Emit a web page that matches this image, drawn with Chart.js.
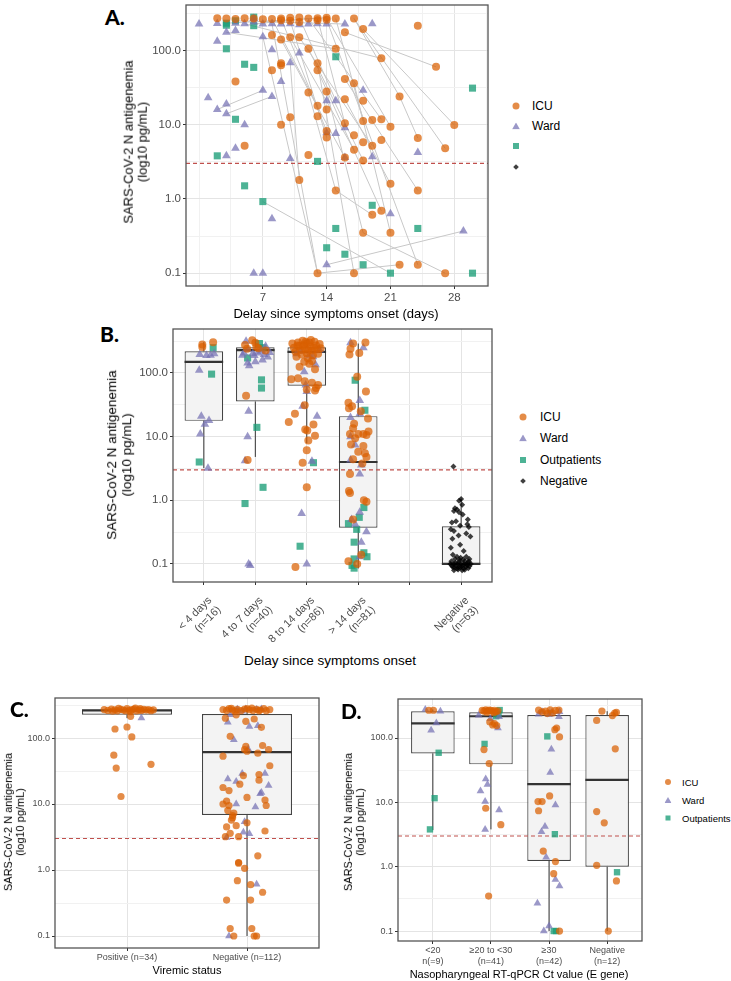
<!DOCTYPE html>
<html><head><meta charset="utf-8"><title>SARS-CoV-2 N antigenemia</title>
<script src="https://cdn.jsdelivr.net/npm/chart.js"></script>
<style>
html,body{margin:0;padding:0;background:#fff}
body{position:relative;width:731px;height:981px;overflow:hidden;font-family:"Liberation Sans",Arial,sans-serif;color:#000}
canvas{position:absolute}
.pl{position:absolute;font-family:Lato,"Liberation Sans",sans-serif;font-weight:900;font-size:21px;line-height:1;transform:translateY(-50%)}
.yt{position:absolute;transform:translate(-50%,-50%) rotate(-90deg);text-align:center;white-space:nowrap;line-height:1.1}
.xt{position:absolute;transform:translate(-50%,-50%);white-space:nowrap}
.lg{position:absolute;white-space:nowrap;transform:translateY(-50%)}
.mk{position:absolute}
</style></head><body>
<canvas id="cA" width="350" height="310" style="left:150px;top:0px"></canvas>
<canvas id="cB" width="372" height="330" style="left:130px;top:320px"></canvas>
<canvas id="cC" width="314" height="275" style="left:15px;top:690px"></canvas>
<canvas id="cD" width="287" height="282" style="left:365px;top:690px"></canvas>

<div class="pl" style="left:105px;top:16px">A.</div>
<div class="pl" style="left:100px;top:333px">B.</div>
<div class="pl" style="left:10px;top:708px">C.</div>
<div class="pl" style="left:341px;top:710px">D.</div>

<div class="yt" style="left:136px;top:142px;font-size:13px">SARS-CoV-2 N antigenemia<br>(log10 pg/mL)</div>
<div class="xt" style="left:336px;top:313px;font-size:13px">Delay since symptoms onset (days)</div>
<div class="yt" style="left:120px;top:455px;font-size:13.5px">SARS-CoV-2 N antigenemia<br>(log10 pg/mL)</div>
<div class="xt" style="left:330px;top:660px;font-size:13.5px">Delay since symptoms onset</div>
<div class="yt" style="left:14px;top:822px;font-size:11px">SARS-CoV-2 N antigenemia<br>(log10 pg/mL)</div>
<div class="xt" style="left:187px;top:970px;font-size:11px">Viremic status</div>
<div class="yt" style="left:354px;top:822px;font-size:11px">SARS-CoV-2 N antigenemia<br>(log10 pg/mL)</div>
<div class="xt" style="left:519px;top:974px;font-size:11px">Nasopharyngeal RT-qPCR Ct value (E gene)</div>
<div id="legends"></div>

<script>
// ---------------- DATA ----------------
const cutoff = 3;                       // positivity threshold (pg/mL)
const yMajor = [0.1, 1, 10, 100];       // y tick labels
const yMinor = [0.316, 3.16, 31.6, 316];

// Panel A: delay since symptoms onset (days) vs antigenemia
const aXLabels = [7, 14, 21, 28];
const aXGrid = [0, 3.5, 7, 10.5, 14, 17.5, 21, 24.5, 28, 31.5];
const aIcuDay = [2,3,4,5,6,7,8,9,10,11,12,13,14,15,17,11,13,14,9,10,18,24,16,8,10,11,9,12,15,20,13,9,9,26,8,13,4,16,17,12,14,22,16,18,13,14,13,10,9,16,18,19,20,21,28,14,14,17,18,20,24,19,17,16,27,5,12,18,11,21,15,24,20,19,18,21,22,24,13,17,27];
const aIcuVal = [270,268,265,270,268,262,265,268,275,278,268,270,275,268,268,240,255,258,255,250,194,215,175,161,150,150,140,105,105,78,67,67,63,60,54,54,38,41,36,27,28,24,22,21,18,16,13,12.6,10,10.4,11.2,11.5,11.8,9.4,9.9,8.2,6.7,7.2,5.8,6.2,6.6,5.2,4.6,3.6,4.8,5.2,3.9,3.3,1.8,1.6,1.3,1.3,0.69,0.61,0.35,0.35,0.13,0.13,0.1,0.1,0.1];
const aWardDay = [0,2,4,5,6,7,8,9,10,11,12,13,14,16,19,6,2,3,4,7,8,11,10,9,1,2,3,3,7,8,5,4,3,10,15,18,16,15,16,19,24,8,21,14,29,6,7,14,14];
const aWardVal = [226,230,232,228,240,226,228,226,228,222,226,228,226,226,228,268,133,175,185,153,102,92,68,38,23,16,19,14,29,24,10,4.8,3.8,3.5,21,29,9.1,7.6,3.6,3.7,4.2,0.54,0.63,0.13,0.37,0.1,0.1,21,7.8];
const aOutDay = [3,3,4,6,6,3,5,6,4,2,13,5,7,15,30,19,15,24,14,16,18,21,30];
const aOutVal = [232,218,250,280,215,105,65,59,11.8,3.8,3.2,1.5,0.92,82,31,0.82,0.4,0.4,0.22,0.18,0.13,0.1,0.1];
// paired samples of the same patient: [day1, value1, day2, value2]
const aLinks = [[2,16,7,29],[3,14,8,24],[7,0.92,21,0.1],[14,0.13,29,0.37],[13,0.1,22,0.13],[3,175,15,105],[5,228,20,78],[16,175,26,60],[22,24,24,6.6],[18,194,28,9.9],[17,268,27,4.8],[15,1.3,19,0.61],[8,228,13,0.1],[10,68,11,1.8],[7,153,13,0.1],[16,41,24,1.3],[17,36,21,0.35],[16,22,21,1.6],[12,105,18,3.3],[13,67,17,0.1],[14,28,18,0.35],[11,150,19,5.2],[9,140,16,3.6],[10,150,17,4.6],[13,54,20,0.69],[14,275,21,9.4],[12,268,20,11.8],[15,268,18,11.2],[13,270,16,10.4],[17,268,22,24],[9,268,14,8.2],[11,278,15,21],[8,265,13,18],[18,0.35,27,0.1],[3,232,14,275],[4,250,16,226],[6,226,12,268],[14,258,24,0.13],[12,27,15,1.3],[10,250,14,6.7]];

// Panel B: delay categories (x = category index + jitter, y = value)
const bCategories = [['< 4 days','(n=16)'],['4 to 7 days','(n=40)'],['8 to 14 days','(n=86)'],['> 14 days','(n=81)'],'',['Negative','(n=63)']];
const bBoxAt = [0,1,2,3,5];
const bQ1  = [17.7, 35.7, 63, 0.37, 0.098];
const bMed = [149, 228, 214, 4.0, 0.1];
const bQ3  = [220, 254, 254, 21, 0.39];
const bLo  = [3.2, 4.8, 7.9, 0.085, 0.08];
const bHi  = [305, 328, 330, 290, 1.06];
const bIcu = [[-0.03,280],[-0.03,257],[0.18,305],
 [0.94,328],[1.0,298],[0.84,240],[0.82,44],[0.85,4.3],[1.02,255],[0.8,275],[1.2,225],[1.06,245],
 [1.72,290],[1.75,250],[1.78,215],[1.8,180],[1.83,300],[1.85,265],[1.88,230],[1.9,195],[1.92,320],[1.95,280],[1.97,240],[2.0,205],[2.02,170],[2.05,300],[2.07,260],[2.1,225],[2.12,190],[2.15,310],[2.18,270],[2.2,235],[2.22,200],[2.25,285],[2.27,245],[2.1,155],[1.95,150],[2.05,140],[2.16,115],[1.86,125],[1.98,310],[2.08,330],[2.0,290],[1.93,265],[2.03,225],[2.13,250],[1.82,270],
 [1.7,80],[1.83,83],[1.96,74],[2.1,70],[2.18,58],[2.16,53],[2.0,55],[2.22,65],[1.96,31],[1.77,23],[1.65,17],[2.13,15.5],[1.97,13],[2.01,12.5],[2.16,10.3],[2.03,8.7],[2.0,6.1],[1.92,3.9],[2.0,1.6],[1.78,0.09],
 [2.9,290],[3.14,300],[2.85,240],[2.83,195],[3.02,207],[2.98,87],[3.15,51],[2.81,34],[2.82,28],[3.19,19.3],[2.9,13.5],[3.0,11],[2.84,11],[3.16,10.6],[3.1,11],[2.94,9.4],[3.1,7.1],[3.0,5.8],[3.13,5.5],[3.16,4.8],[2.9,4.4],[2.84,2.6],[2.82,1.4],[2.84,1.3],[3.16,0.95],[3.11,1.0],[2.9,0.5],[2.81,0.11],[2.98,0.1],[3.06,0.14],[2.88,30],[3.05,25],[2.92,16],[3.2,12],[2.86,7.5],[3.08,3.8]];
const bWard = [[-0.08,195],[0.13,190],[0.2,200],[0.05,188],[-0.09,110],[-0.05,21],[0.1,18],[0.02,15.6],[-0.07,11],[0.08,3.2],
 [0.82,316],[1.2,263],[0.85,233],[0.78,207],[1.05,207],[1.11,220],[1.24,179],[1.17,195],[0.88,130],[0.85,143],[0.87,25],[0.85,10],[0.8,4.2],[0.87,0.1],[0.9,0.095],[0.95,200],[1.28,210],[0.98,188],[0.75,190],[1.14,160],[1.0,150],
 [1.98,65],[2.0,51],[1.92,30],[2.2,21],[2.1,4.1],[1.9,0.62],[2.0,0.1],[1.88,220],[2.05,190],[2.12,180],[1.8,200],[2.25,230],[2.17,135],[1.95,105],
 [2.85,298],[3.1,250],[3.03,37],[2.85,20],[3.03,23],[2.85,10],[2.94,7.4],[3.06,3.6],[3.03,2.6],[2.85,4.3],[3.03,0.65],[2.87,0.5],[2.94,0.42],[3.16,0.32],[3.06,0.22],[3.03,0.13]];
const bOut = [[0.18,250],[0.15,96],[-0.09,4],[1.08,290],[0.85,172],[1.12,78],[1.12,58],[1.03,14],[1.15,1.6],[0.8,0.89],[1.15,250],[2.13,3.9],[1.87,0.19],[2.94,77],[3.13,26],[3.11,0.77],[3.02,0.54],[2.81,0.43],[2.97,0.35],[2.92,0.22],[3.11,0.15],[3.17,0.13],[2.88,0.095],[2.92,0.086],[2.92,0.12]];
const bNeg = [[4.85,3.4],[5.0,1.05],[4.96,0.98],[5.02,0.85],[4.88,0.75],[4.92,0.72],[4.86,0.68],[4.96,0.65],[5.03,0.6],[5.13,0.5],[4.9,0.47],[4.82,0.45],[5.12,0.42],[4.98,0.4],[5.15,0.38],[4.8,0.35],[4.86,0.33],[5.1,0.3],[4.95,0.28],[5.18,0.27],[4.83,0.25],[4.98,0.2],[4.8,0.18],[5.05,0.16],[4.84,0.14],[4.92,0.13],[5.1,0.13],[5.16,0.12],[4.88,0.12],[4.97,0.115],[5.07,0.11],[4.81,0.11],[5.13,0.105],[4.86,0.1],[4.93,0.1],[5.0,0.1],[5.06,0.1],[5.19,0.1],[4.79,0.1],[4.9,0.095],[5.03,0.095],[5.12,0.095],[4.84,0.09],[4.98,0.09],[5.09,0.09],[5.16,0.092],[4.95,0.088],[4.87,0.087],[5.05,0.085],[4.92,0.085],[5.14,0.086],[4.82,0.094],[5.0,0.092],[4.96,0.108],[5.04,0.118],[4.89,0.104],[5.11,0.098],[4.94,0.082],[5.02,0.08],[4.86,0.08],[5.07,0.081],[4.99,0.125],[5.15,0.11]];

// Panel C: viremic status
const cCategories = ['Positive (n=34)', 'Negative (n=112)'];
const cBoxAt = [0, 1];
const cQ1 = [226, 6.8], cMed = [263, 61], cQ3 = [269, 231], cLo = [200, 0.1], cHi = [285, 285];
const cIcu = [[-0.19,270],[-0.16,262],[-0.13,275],[-0.1,268],[-0.08,258],[-0.05,272],[-0.03,265],[0.0,280],[0.02,262],[0.04,270],[0.06,275],[0.08,258],[0.1,268],[0.12,262],[0.14,272],[0.16,265],[0.18,270],[0.2,260],[0.22,268],[-0.12,255],[0.07,285],[-0.01,258],[0.03,250],[0.11,278],[-0.07,282],
 [0.03,213],[-0.1,137],[0.0,147],[0.04,104],[-0.11,55],[0.2,40],[-0.09,35],[-0.05,13],
 [0.8,270],[0.83,262],[0.85,278],[0.88,265],[0.92,272],[0.95,260],[0.98,275],[1.02,268],[1.05,262],[1.08,272],[1.11,265],[1.14,278],[1.16,260],[1.19,270],[0.9,255],[1.0,280],[1.1,258],[0.87,282],[1.04,285],
 [0.82,200],[0.91,225],[0.99,179],[1.06,194],[1.12,145],[0.86,106],[0.99,75],[0.98,67],[1.0,63],[1.09,59],[1.13,77],[1.18,67],[0.8,53],[1.19,38],[0.94,20],[0.97,27],[1.1,23],[1.1,28],[0.8,17.8],[0.85,16],[0.83,11.1],[0.8,10],[0.85,9.5],[1.0,12.6],[1.15,11.5],[1.16,9.5],[0.84,8],[0.89,7.3],[0.88,6.7],[0.88,6.2],[0.87,5.7],[1.0,5.2],[0.83,4.5],[0.91,4.7],[1.15,3.9],[0.86,3.6],[0.82,3.2],[0.93,3.2],[1.09,1.64],[0.93,1.3],[0.93,1.27],[0.98,1.06],[0.92,0.69],[1.03,0.6],[1.13,0.46],[0.83,0.35],[1.03,0.35],[0.86,0.13],[1.04,0.13],[0.89,0.1],[1.06,0.1],[1.08,0.1]];
const cWard = [[0.12,201],[0.92,272],[0.99,275],[1.08,270],[1.12,275],[0.96,255],[0.86,225],[0.84,173],[1.02,150],[1.09,154],[0.89,94],[1.01,68],[0.84,24],[0.91,22],[0.96,29],[1.15,29],[1.18,19],[1.11,14.3],[1.12,15],[0.91,10],[1.07,9],[0.98,5.4],[0.97,3.75],[1.02,3.55],[0.83,3.1],[1.08,0.61],[0.85,0.1]];

// Panel D: nasopharyngeal RT-qPCR Ct value
const dCategories = [['<20','n(=9)'],['\u226520 to <30','(n=41)'],['\u226530','(n=42)'],['Negative','(n=12)']];
const dBoxAt = [0,1,2,3];
const dQ1 = [57.7, 39, 1.23, 1.0], dMed = [169, 218, 19.2, 22.4], dQ3 = [261, 251, 228, 228], dLo = [3.7, 3.8, 0.1, 0.1], dHi = [277, 275, 275, 261];
const dIcu = [[-0.07,270],[0.01,270],
 [0.85,270],[0.88,262],[0.91,275],[0.94,265],[0.97,272],[1.0,268],[1.03,260],[1.06,270],[1.09,258],[1.12,265],[0.93,250],[1.05,248],[0.98,178],[1.03,160],[1.1,156],[1.06,168],[0.88,66],[0.97,40],[0.91,8.1],[1.17,4.5],[0.96,0.35],
 [1.82,272],[1.94,262],[2.11,268],[2.17,272],[2.06,245],[1.97,240],[2.02,275],[1.88,255],[2.1,135],[2.13,143],[2.18,104],[2.01,12.6],[1.81,10.3],[1.88,10.3],[1.82,7.4],[1.9,1.75],[2.11,1.2],[2.08,0.78],[2.18,0.1],
 [2.91,261],[3.09,223],[3.16,250],[3.13,245],[2.82,188],[3.14,68],[2.82,7.2],[2.95,4.8],[2.82,1.05],[3.16,0.6],[3.02,0.1]];
const dWard = [[-0.13,277],[0.13,261],[0.06,171],[-0.03,132],
 [0.79,225],[1.14,215],[1.12,143],[0.99,200],[0.91,23],[0.94,19],[0.82,15],[0.9,10.3],[1.14,7.6],[0.9,3.8],
 [1.82,235],[1.88,255],[2.17,215],[2.04,250],[2.18,255],[2.0,230],[2.04,67],[2.02,29],[2.11,9.1],[1.93,4.2],[1.87,3.5],[1.95,1.4],[2.11,0.63],[2.18,0.5],[1.8,0.27],[2.0,0.12],[1.91,0.1]];
const dOut = [[0.1,59],[0.03,11.6],[-0.05,3.8],[1.15,272],[1.09,218],[1.13,232],[0.89,81],[1.97,106],[2.1,3.2],[2.08,0.1],[2.12,0.1],[3.17,0.82]];

const legendA = ['ICU','Ward','',''];
const legendB = ['ICU','Ward','Outpatients','Negative'];
const legendD = ['ICU','Ward','Outpatients'];

// ---------------- STYLE ----------------
const family = '"Liberation Sans", Arial, sans-serif';
const tickCol = '#4D4D4D';
const COL = {icu:'rgba(217,95,2,0.72)', ward:'rgba(117,112,179,0.72)', out:'rgba(27,158,119,0.78)', neg:'rgba(0,0,0,0.75)'};
const GRID_MAJ = '#E4E4E4', GRID_MIN = '#F1F1F1';
Chart.defaults.font.family = family;
Chart.defaults.animation = false;

function yAxis(min, max, width, size){
  const all = yMajor.concat(yMinor).filter(v => v >= min && v <= max).sort((a,b)=>a-b);
  return {type:'logarithmic', min, max,
    afterBuildTicks: s => { s.ticks = all.map(v => ({value:v})); },
    afterFit: s => { s.width = width; s.paddingTop = 0; s.paddingBottom = 0; },
    ticks:{autoSkip:false, color:tickCol, font:{family, size}, padding:2,
      callback: v => yMajor.includes(v) ? v.toFixed(1) : ''},
    grid:{lineWidth:1, tickLength:3, drawTicks:true,
      color: c => (c.tick && yMajor.includes(c.tick.value)) ? GRID_MAJ : GRID_MIN,
      tickColor: c => (c.tick && yMajor.includes(c.tick.value)) ? '#333' : 'rgba(0,0,0,0)'},
    border:{display:false}};
}
function catAxis(labels, height, size, rot, pad, shift){
  return {type:'linear', min:-0.6, max:labels.length - 0.4, offset:false,
    afterBuildTicks: s => { s.ticks = labels.map((_, i) => ({value:i})); },
    afterFit: s => { s.height = height; s.paddingLeft = 0; s.paddingRight = 0; },
    ticks:{autoSkip:false, color:tickCol, font:{family, size}, padding:pad, labelOffset:shift, maxRotation:rot, minRotation:rot,
      callback: (v, i) => labels[i]},
    grid:{offset:false, color:GRID_MAJ, tickLength:3, tickColor:'#333'},
    border:{display:false}};
}
const frame = {id:'frame', afterDraw(chart){
  const {ctx, chartArea:a} = chart; ctx.save(); ctx.strokeStyle = '#555'; ctx.lineWidth = 1.3;
  ctx.strokeRect(a.left, a.top, a.right - a.left, a.bottom - a.top); ctx.restore(); }};
function boxDecor(lo, med, hi, q1, q3){
  return {id:'boxDecor', afterDatasetDraw(chart, args){
    if (args.meta.type !== 'bar') return;
    const y = chart.scales.y, ctx = chart.ctx;
    args.meta.data.forEach((bar, i) => {
      const px = bar.x, hw = bar.width / 2;
      ctx.save(); ctx.strokeStyle = '#333'; ctx.lineWidth = 1;
      ctx.beginPath();
      ctx.moveTo(px, y.getPixelForValue(q3[i])); ctx.lineTo(px, y.getPixelForValue(hi[i]));
      ctx.moveTo(px, y.getPixelForValue(q1[i])); ctx.lineTo(px, y.getPixelForValue(lo[i]));
      ctx.stroke();
      ctx.lineWidth = 2.2; ctx.beginPath();
      const my = y.getPixelForValue(med[i]);
      ctx.moveTo(px - hw, my); ctx.lineTo(px + hw, my); ctx.stroke();
      ctx.restore();
    });
  }};
}
const pts = pairs => pairs.map(p => ({x:p[0], y:p[1]}));
const zip = (xs, ys) => xs.map((x, i) => ({x, y:ys[i]}));
function sc(data, color, style, r, order){ return {type:'scatter', data, backgroundColor:color, borderWidth:0, pointStyle:style, pointRadius:r, pointHoverRadius:r, order}; }
function hline(x0, x1){ return {type:'line', data:[{x:x0,y:cutoff},{x:x1,y:cutoff}], borderColor:'#C0504D', borderWidth:1.2, borderDash:[4,3], pointRadius:0, order:5}; }
function boxDs(at, q1, q3){ return {type:'bar', data:at.map((x,i)=>({x, y:[q1[i], q3[i]]})), backgroundColor:'#F3F3F3', borderColor:'#444', borderWidth:1.2, borderSkipped:false, barPercentage:0.75, categoryPercentage:1, order:50}; }
const basePlugins = {legend:{display:false}, tooltip:{enabled:false}};

// ---------------- PANEL A ----------------
const linkData = [];
aLinks.forEach(l => { linkData.push({x:l[0], y:l[1]}, {x:l[2], y:l[3]}, {x:l[2], y:null}); });
new Chart(document.getElementById('cA'), {
  type:'scatter',
  data:{datasets:[
    sc(zip(aIcuDay, aIcuVal), COL.icu, 'circle', 4, 1),
    sc(zip(aWardDay, aWardVal), COL.ward, 'triangle', 5, 2),
    sc(zip(aOutDay, aOutVal), COL.out, 'rect', 5, 3),
    {type:'line', data:linkData, borderColor:'#C8C8C8', borderWidth:1, pointRadius:0, spanGaps:false, order:40},
    hline(-1.43, 31.7)
  ]},
  options:{responsive:false, animation:false, events:[], layout:{padding:{top:-2, right:12, left:0, bottom:0}},
    plugins:basePlugins,
    scales:{
      x:{type:'linear', min:-1.43, max:31.7, offset:false,
        afterBuildTicks: s => { s.ticks = aXGrid.map(v => ({value:v})); },
        afterFit: s => { s.height = 24; s.paddingLeft = 0; s.paddingRight = 0; },
        ticks:{autoSkip:false, maxRotation:0, color:tickCol, font:{family, size:11.5}, padding:2,
          callback: v => aXLabels.includes(v) ? String(v) : ''},
        grid:{offset:false, tickLength:3,
          color: c => (c.tick && aXLabels.includes(c.tick.value)) ? GRID_MAJ : GRID_MIN,
          tickColor: c => (c.tick && aXLabels.includes(c.tick.value)) ? '#333' : 'rgba(0,0,0,0)'},
        border:{display:false}},
      y: yAxis(0.0672, 408, 36, 11.5)
    }},
  plugins:[frame]
});

// ---------------- PANEL B ----------------
new Chart(document.getElementById('cB'), {
  type:'scatter',
  data:{datasets:[
    sc(pts(bIcu), COL.icu, 'circle', 4, 1),
    sc(pts(bWard), COL.ward, 'triangle', 5, 2),
    sc(pts(bOut), COL.out, 'rect', 5, 3),
    sc(pts(bNeg), COL.neg, 'rectRot', 3, 4),
    hline(-0.6, 5.6),
    boxDs(bBoxAt, bQ1, bQ3)
  ]},
  options:{responsive:false, animation:false, events:[], layout:{padding:{top:9, right:10, left:0, bottom:0}},
    plugins:basePlugins,
    scales:{x: catAxis(bCategories, 68, 11, 45, 9, 6), y: yAxis(0.0521, 491, 43, 11.5)}},
  plugins:[frame, boxDecor(bLo, bMed, bHi, bQ1, bQ3)]
});

// ---------------- PANEL C ----------------
new Chart(document.getElementById('cC'), {
  type:'scatter',
  data:{datasets:[
    sc(pts(cIcu), COL.icu, 'circle', 3.6, 1),
    sc(pts(cWard), COL.ward, 'triangle', 4.5, 2),
    hline(-0.6, 1.6),
    boxDs(cBoxAt, cQ1, cQ3)
  ]},
  options:{responsive:false, animation:false, events:[], layout:{padding:{top:8, right:10, left:0, bottom:0}},
    plugins:basePlugins,
    scales:{x: catAxis(cCategories, 17, 9, 0, 1, 0), y: yAxis(0.0658, 404, 40, 9)}},
  plugins:[frame, boxDecor(cLo, cMed, cHi, cQ1, cQ3)]
});

// ---------------- PANEL D ----------------
new Chart(document.getElementById('cD'), {
  type:'scatter',
  data:{datasets:[
    sc(pts(dIcu), COL.icu, 'circle', 3.6, 1),
    sc(pts(dWard), COL.ward, 'triangle', 4.5, 2),
    sc(pts(dOut), COL.out, 'rect', 4.5, 3),
    hline(-0.6, 3.6),
    boxDs(dBoxAt, dQ1, dQ3)
  ]},
  options:{responsive:false, animation:false, events:[], layout:{padding:{top:9, right:10, left:0, bottom:0}},
    plugins:basePlugins,
    scales:{x: catAxis(dCategories, 31, 9, 0, 1, 0), y: yAxis(0.070, 404, 33, 9)}},
  plugins:[frame, boxDecor(dLo, dMed, dHi, dQ1, dQ3)]
});

// ---------------- HTML LEGENDS ----------------
const shapes = [
  s => `width:${s}px;height:${s}px;border-radius:50%;background:${COL.icu}`,
  s => `width:${s+1}px;height:${s}px;clip-path:polygon(50% 0,100% 100%,0 100%);background:${COL.ward}`,
  s => `width:${s-1}px;height:${s-1}px;background:${COL.out}`,
  s => `width:${s-3}px;height:${s-3}px;background:${COL.neg}`
];
function legend(labels, mx, tx, ys, size, font){
  const host = document.getElementById('legends');
  labels.forEach((lab, i) => {
    const m = document.createElement('div'); m.className = 'mk';
    m.setAttribute('style', `left:${mx}px;top:${ys[i]}px;` + shapes[i](size));
    m.style.transform = i === 3 ? 'translate(-50%,-50%) rotate(45deg)' : 'translate(-50%,-50%)';
    host.appendChild(m);
    if (lab) { const t = document.createElement('div'); t.className = 'lg'; t.textContent = lab;
      t.setAttribute('style', `left:${tx}px;top:${ys[i]}px;font-size:${font}px`); host.appendChild(t); }
  });
}
legend(legendA, 516, 532, [106,126,146,167], 7, 12);
legend(legendB, 523, 540, [417,438,460,481], 7, 12);
legend(legendD, 668, 682, [782,800,818], 6, 9.5);
</script>
</body></html>
